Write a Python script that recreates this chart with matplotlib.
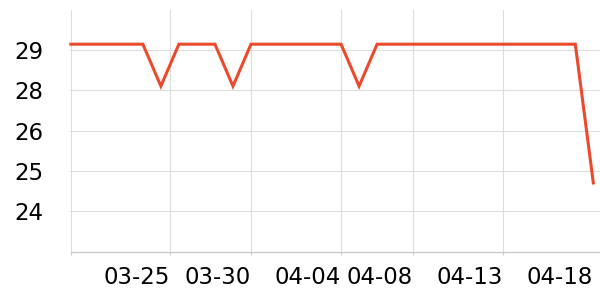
import matplotlib
matplotlib.use("Agg")
import matplotlib.pyplot as plt

# data (30 consecutive points, index positions)
values = [28.93] * 5 + [27.63] + [28.93] * 3 + [27.63] + [28.93] * 6 + [27.63] + [28.93] * 12 + [24.63]
x_pos = list(range(len(values)))

tick_pos = [0, 5.5, 10, 15, 19, 24, 29]
tick_labels = ["", "03-25", "03-30", "04-04", "04-08", "04-13", "04-18"]
ytick_vals = [23.75, 25.0, 26.25, 27.5, 28.75]
ytick_labels = ["24", "25", "26", "28", "29"]

fig = plt.figure(figsize=(6, 3), dpi=100)
ax = fig.add_axes([0.118, 0.16, 0.882, 0.8067])

ax.plot(x_pos, values, color="#ec4a2c", linewidth=2.2, solid_joinstyle="miter", zorder=3, clip_on=False)

ax.set_xlim(0, 29.37)
ax.set_ylim(22.49, 29.99)

ax.set_xticks(tick_pos)
ax.set_xticklabels(tick_labels, ha="right", fontsize=16.5)
ax.set_yticks(ytick_vals)
ax.set_yticklabels(ytick_labels, fontsize=16.5)

ax.grid(True, color="#dddddd", linewidth=0.8)
ax.set_axisbelow(True)
# last tick (04-18) shows no gridline or tick mark
ax.xaxis.get_gridlines()[-1].set_visible(False)
ax.xaxis.get_major_ticks()[-1].tick1line.set_visible(False)

for s in ["top", "right", "left"]:
    ax.spines[s].set_visible(False)
ax.spines["bottom"].set_color("#c8c8c8")
ax.spines["bottom"].set_linewidth(0.9)

ax.tick_params(axis="x", length=1.8, width=0.8, color="#c8c8c8", pad=8.3, labelcolor="black")
ax.tick_params(axis="y", length=1.8, width=0.8, color="#dddddd", pad=18, labelcolor="black")

fig.savefig("out.png", dpi=100)
